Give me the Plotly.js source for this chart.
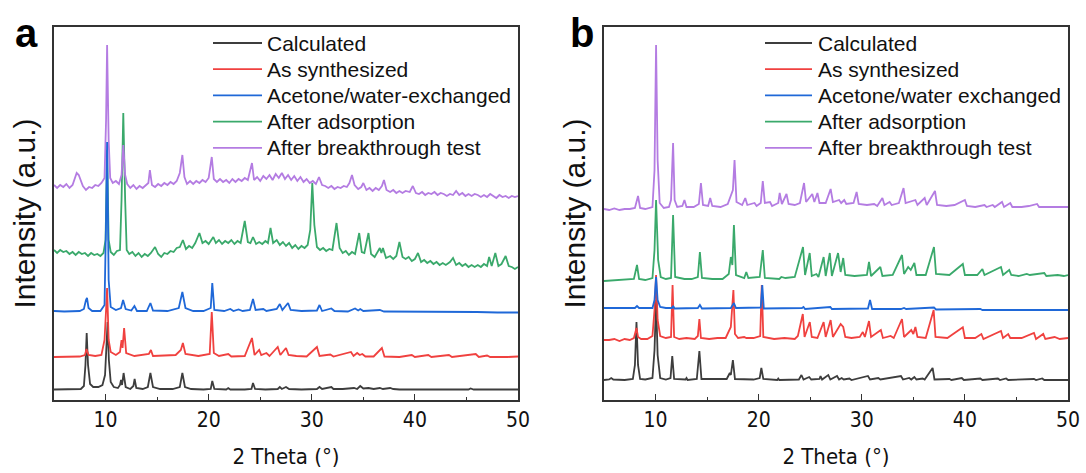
<!DOCTYPE html>
<html>
<head>
<meta charset="utf-8">
<script src="https://cdn.plot.ly/plotly-3.0.1.min.js"></script>
<style>html,body{margin:0;padding:0;background:#fff;}#chart{width:1086px;height:473px;}</style>
</head>
<body>
<div id="chart"></div>
<script>
// Series names (legend order)
const seriesNamesA = ["Calculated", "As synthesized", "Acetone/water-exchanged", "After adsorption", "After breakthrough test"];
const seriesNamesB = ["Calculated", "As synthesized", "Acetone/water exchanged", "After adsorption", "After breakthrough test"];
const panelLabels = ["a", "b"];
const xTickVals = [10, 20, 30, 40, 50];

// ---- Panel a: [2theta, stacked intensity (a.u.)] ----
const aCalculated = [[5,10.5],[6,10.5],[7,10.5],[7.6,11],[7.9,14],[8.05,35],[8.17,67],[8.3,35],[8.5,16],[8.8,13],[9.3,13],[9.7,15],[9.95,25],[10.1,55],[10.2,78],[10.32,40],[10.5,18],[10.8,13],[11.2,12],[11.4,15],[11.5,20],[11.6,15],[11.75,27],[11.95,13],[12.4,11],[12.7,14],[12.82,21],[12.98,12],[13.6,11],[14.1,13],[14.35,27],[14.6,13],[15.3,11],[16.5,11],[17.2,13],[17.45,27],[17.7,13],[18.3,11],[19.5,10.5],[20.2,11],[20.35,19],[20.55,11],[21.7,10.5],[21.9,12],[22.1,10.5],[23.5,10.5],[24.15,11],[24.3,17],[24.5,11],[25.5,10.5],[26.7,11],[26.9,13],[27.1,11],[27.5,13],[27.8,11],[29,10.5],[30.5,11],[30.75,13],[31,11],[31.9,13],[32.1,11],[33,11],[34.1,12],[34.4,11],[34.7,14],[35,11.5],[35.5,12],[36,11],[36.6,12],[36.9,11],[37.6,12],[37.9,11],[38.5,10.5],[40,10.5],[42,10.5],[45.2,10.5],[45.4,11.5],[45.7,10.5],[48,10.5],[50,10.5]];
const aAsSynth = [[5,43],[6,43],[7.5,43.5],[8,45],[8.15,51],[8.35,45],[9,44],[9.6,45],[9.9,60],[10.05,90],[10.15,112],[10.3,60],[10.5,48],[11,45],[11.4,48],[11.55,60],[11.65,52],[11.8,72],[12,47],[12.8,44],[14.2,46],[14.4,50],[14.6,44],[16.8,45],[17.3,50],[17.5,57],[17.75,46],[19,44],[20.1,46],[20.3,88],[20.5,47],[21,44],[21.9,46],[22.2,43.5],[23.5,44],[24.2,62],[24.45,45],[24.9,50],[25.1,45],[25.6,47],[25.9,44],[26.7,53],[26.95,45],[27.5,52],[27.75,45],[28.5,44],[29.5,43.5],[30.5,53],[30.75,44],[31.8,45.5],[32.1,43.5],[33.8,48],[34.05,44],[34.4,47],[34.65,45],[34.9,46],[35.2,43.5],[36,43.5],[36.8,52],[37.05,43.5],[38.5,43],[39.7,45],[40,43],[41.3,45],[41.6,43],[43.3,45],[43.6,43],[45.9,46],[46.2,43],[47,44.5],[47.3,43],[49,43],[50,43.5]];
const aExchanged = [[5,89],[6,88.5],[7.5,89],[7.9,91],[8.1,100],[8.2,102],[8.35,92],[8.7,89],[9.5,89],[9.9,95],[10.05,180],[10.15,258],[10.3,120],[10.5,93],[11,90],[11.5,92],[11.7,100],[11.95,91],[12.5,89.5],[12.8,94],[13.05,89],[14,89],[14.35,97],[14.6,89.5],[16,89],[17.1,92],[17.45,108],[17.75,92],[18.5,89],[19.5,89],[20.2,92],[20.35,117],[20.55,90],[21.5,89],[22.1,91],[22.4,89],[22.9,90.5],[23.3,89],[24,90],[24.3,101],[24.55,90],[25.3,91],[25.6,89],[26.6,91],[26.9,96],[27.15,90],[27.7,97],[27.95,90],[29,89],[30.5,89.5],[30.75,95],[31,89],[31.9,91.5],[32.2,89],[33.5,88.5],[34.2,91.5],[34.5,89.5],[34.7,91],[35,89],[36.6,90],[37,88.5],[40,88.5],[42,88],[44,88],[46,88],[48,87.5],[50,87.5]];
const aAdsorption = [[5,150],[5.3,147],[5.6,150],[5.9,148],[6.2,149],[6.5,146],[6.8,148],[7.1,145],[7.4,148],[7.7,146],[8,147],[8.3,144],[8.6,147],[8.9,145],[9.2,146],[9.5,144],[9.8,147],[10.0,160],[10.15,250],[10.3,160],[10.5,148],[10.8,145],[11.1,149],[11.4,150],[11.55,200],[11.72,287],[11.9,200],[12.05,150],[12.3,146],[12.6,148],[12.9,144],[13.2,147],[13.5,143],[13.8,146],[14.1,144],[14.4,147],[14.8,153],[15.1,146],[15.4,143],[15.7,147],[16,146],[16.3,149],[16.6,148],[16.9,152],[17.2,153],[17.5,160],[17.8,151],[18.1,154],[18.4,152],[18.7,157],[19.1,167],[19.4,157],[19.7,159],[20.0,156],[20.45,163],[20.7,157],[21.0,160],[21.3,156],[21.6,159],[21.9,157],[22.2,160],[22.5,156],[22.8,159],[23.1,157],[23.5,179],[23.8,158],[24.05,157],[24.3,163],[24.6,156],[24.9,158],[25.2,156],[25.5,159],[25.75,157],[26.0,172],[26.25,157],[26.6,160],[26.9,155],[27.2,158],[27.5,154],[27.8,157],[28.1,152],[28.4,155],[28.7,151],[29.0,154],[29.3,152],[29.6,155],[29.85,170],[30.05,217],[30.25,175],[30.5,153],[30.8,150],[31.1,152],[31.4,149],[31.7,151],[32.0,150],[32.4,177],[32.7,152],[33.0,147],[33.3,149],[33.6,145],[33.9,148],[34.2,146],[34.6,167],[34.85,148],[35.1,147],[35.5,167],[35.75,146],[36.1,143],[36.6,152],[36.75,147],[36.9,152],[37.2,142],[37.6,144],[37.9,141],[38.2,144],[38.5,158],[38.8,143],[39.1,141],[39.4,143],[39.7,139],[40.0,141],[40.3,147],[40.6,138],[40.9,140],[41.2,137],[41.5,139],[41.8,136],[42.1,138],[42.4,135],[42.7,137],[43.0,135],[43.4,138],[43.7,142],[44.0,135],[44.3,137],[44.6,134],[44.9,136],[45.2,133],[45.5,135],[45.8,133],[46.1,135],[46.4,133],[46.7,136],[47.0,134],[47.2,143],[47.45,134],[47.8,147],[48.1,134],[48.4,136],[48.8,144],[49.1,134],[49.4,133],[49.7,131],[50,133]];
const aBreakthrough = [[5,215],[5.3,212],[5.6,215],[5.9,213],[6.2,216],[6.5,212],[6.8,215],[7.0,222],[7.2,227],[7.4,225],[7.6,219],[7.8,214],[8.1,210],[8.4,213],[8.7,212],[9.0,215],[9.3,214],[9.6,217],[9.9,222],[10.05,280],[10.15,355],[10.3,260],[10.45,222],[10.7,217],[11.0,219],[11.3,216],[11.55,225],[11.72,255],[11.9,225],[12.1,216],[12.4,212],[12.7,215],[13.0,211],[13.3,214],[13.6,212],[13.9,215],[14.15,217],[14.3,230],[14.5,215],[14.8,213],[15.1,216],[15.4,214],[15.7,217],[16.0,215],[16.3,218],[16.6,216],[16.9,219],[17.2,227],[17.45,245],[17.65,223],[17.9,216],[18.2,219],[18.5,216],[18.8,219],[19.1,217],[19.4,220],[19.7,218],[20.0,222],[20.3,243],[20.5,221],[20.8,218],[21.1,221],[21.4,218],[21.7,220],[22.0,217],[22.3,221],[22.6,218],[22.9,221],[23.2,219],[23.5,222],[23.8,220],[24.2,237],[24.4,220],[24.7,223],[25.0,219],[25.3,224],[25.6,221],[25.9,225],[26.2,220],[26.5,226],[26.8,222],[27.1,227],[27.4,221],[27.7,225],[28.0,220],[28.3,224],[28.6,219],[28.9,223],[29.2,218],[29.5,221],[29.8,217],[30.1,219],[30.4,216],[30.7,223],[31.0,215],[31.3,214],[31.6,212],[31.9,214],[32.2,211],[32.5,213],[32.8,212],[33.1,214],[33.4,213],[33.65,217],[33.9,225],[34.15,215],[34.5,211],[34.8,213],[35.0,217],[35.3,210],[35.6,212],[35.9,209],[36.2,212],[36.5,210],[36.8,214],[37.0,220],[37.25,210],[37.6,208],[37.9,210],[38.2,207],[38.5,209],[38.8,207],[39.1,209],[39.5,208],[39.8,214],[40.1,207],[40.4,206],[40.7,208],[41.0,205],[41.3,207],[41.6,206],[41.9,208],[42.2,205],[42.5,207],[42.8,206],[43.1,204],[43.4,206],[43.7,205],[44.0,209],[44.3,205],[44.6,207],[44.9,204],[45.2,206],[45.5,204],[45.8,206],[46.1,205],[46.4,203],[46.7,205],[47.0,203],[47.3,206],[47.6,204],[47.9,202],[48.2,205],[48.5,203],[48.8,204],[49.1,202],[49.4,204],[49.7,203],[50,204]];

// ---- Panel b ----
const bCalculated = [[5,20],[5.5,20.5],[5.7,22],[5.9,20.5],[7,20],[7.8,21],[8.0,35],[8.15,78],[8.3,35],[8.5,21],[9,20.5],[9.7,22],[9.9,50],[10.05,100],[10.2,45],[10.45,22],[11,20.5],[11.45,22],[11.62,44],[11.8,21],[12.9,20.5],[13.0,22],[13.1,20],[14.0,21],[14.25,49],[14.45,21],[16.9,21],[17.2,27],[17.3,25],[17.5,40],[17.7,21],[19.5,20.5],[20.1,22],[20.26,32],[20.45,21],[21.8,20],[21.9,21.5],[22.0,20],[23.9,20.5],[24.15,25],[24.35,20.5],[24.9,23],[25.1,20.5],[25.9,21],[26.0,24],[26.15,20.5],[26.75,25],[26.95,20.5],[27.6,24],[27.8,20.5],[28.05,22],[28.25,20.5],[28.8,21.5],[29,20],[30.6,24],[30.8,20.5],[31.6,22],[31.8,20.5],[33.8,24],[34,20.5],[34.6,22],[34.8,20.5],[35.1,23],[35.3,20.5],[35.9,21.5],[36.1,20.5],[36.87,32],[37.05,20.5],[38.5,21],[38.7,20],[39.7,22],[39.9,20],[41.5,21.5],[41.7,20],[43.2,21.5],[43.4,20],[44,21.5],[44.2,20],[46.7,21],[46.9,20],[47.5,21.5],[47.7,20],[50,20]];
const bAsSynth = [[5,60],[5.5,60],[6,61],[6.5,59],[7,61],[7.5,60],[7.9,62],[8.05,70],[8.15,72],[8.3,63],[8.6,61],[9.2,61],[9.7,64],[9.9,90],[10.05,125],[10.2,80],[10.45,64],[11,62],[11.5,63],[11.65,115],[11.8,63],[12.3,61],[13,62],[13.8,61],[14.1,64],[14.25,81],[14.4,62],[15.2,61],[16,62],[16.8,62],[17.2,70],[17.3,73],[17.55,110],[17.7,66],[18.0,62],[18.6,63],[18.8,62],[19.5,62],[20.15,64],[20.3,115],[20.45,63],[21.5,61],[22.5,62],[23.5,61],[23.8,64],[24.28,86],[24.45,63],[24.96,78],[25.15,63],[25.7,62],[26.3,78],[26.5,63],[26.98,80],[27.2,63],[27.95,76],[28.2,73],[28.4,63],[29,62],[29.8,63],[30.1,68],[30.3,63],[30.7,79],[30.9,63],[31.85,70],[32.05,62],[32.8,64],[33.1,62],[33.9,81],[34.1,63],[34.8,70],[35.0,66],[35.2,73],[35.4,63],[36.2,62],[36.97,90],[37.15,63],[38.3,62],[39.8,72.7],[40.0,62],[41.0,62],[41.6,66],[41.8,61],[43.5,69],[43.7,62],[44.2,66],[44.4,62],[45.5,62],[46.7,67],[46.9,61],[47.6,66],[47.8,61],[48.7,63],[49.2,61],[50,62]];
const bExchanged = [[5,92],[7,92],[8.0,92],[8.2,94],[8.4,92],[9.7,92],[9.9,100],[10.05,123],[10.2,100],[10.45,93],[11,92],[11.6,92],[11.7,94],[11.85,91.5],[14.1,92],[14.3,95],[14.5,91.5],[17.3,92],[17.6,97],[17.8,92],[20.2,92.5],[20.35,115],[20.5,91.5],[24.2,92],[24.35,93],[24.5,91],[26.95,93],[27.1,91],[30.6,91.5],[30.8,100],[31.0,91],[33.8,91],[34.1,92],[34.3,91],[37.0,92.5],[37.2,90.5],[41.5,91],[41.7,90],[45,90],[50,90]];
const bAdsorption = [[5,119],[6,119.5],[7,120],[7.9,121],[8.2,135],[8.4,121],[9,120],[9.7,122],[9.9,150],[10.05,200],[10.25,140],[10.5,123],[11,121],[11.5,122],[11.7,185],[11.9,123],[12.8,121],[13.5,121],[14.1,123],[14.3,148],[14.5,122],[15.5,121],[16.5,121],[17.1,126],[17.3,143],[17.45,135],[17.6,175],[17.8,125],[18.6,122],[18.8,128],[19.0,122],[20.1,123],[20.4,150],[20.6,122],[22.0,121],[22.2,123],[22.6,122],[23.5,123],[24.3,153],[24.5,125],[24.95,147],[25.15,124],[25.6,126],[25.8,123],[26.3,143],[26.5,124],[26.9,147],[27.1,124],[27.7,147],[27.95,128],[28.2,142],[28.4,125],[29.3,124],[30.5,125],[30.7,138],[30.9,124],[31.8,133],[32.0,124],[33.0,125],[33.9,145],[34.1,126],[34.5,133],[34.75,130],[35.1,137],[35.3,125],[36.2,125],[37.0,153],[37.2,126],[38.5,125],[39.8,136],[40.0,125],[41.2,125],[41.7,131],[41.9,125],[43.5,133],[43.7,125],[44.3,130],[44.5,125],[45.2,124],[46.0,126],[46.3,125],[47.7,127],[47.9,124],[49,125],[49.6,124],[50,125]];
const bBreakthrough = [[5,191],[5.5,190],[6,191.5],[6.5,190],[7,191],[7.5,191],[8.0,192],[8.3,204],[8.5,192],[9,191],[9.7,193],[9.9,230],[10.05,355],[10.2,240],[10.4,197],[10.8,192],[11.3,193],[11.5,200],[11.7,257],[11.85,200],[12.1,193],[12.6,194],[12.8,200],[13.0,193],[13.7,193],[14.2,196],[14.4,217],[14.6,195],[15.1,194],[15.3,202],[15.5,194],[16.3,193],[17.0,196],[17.35,205],[17.5,210],[17.66,240],[17.85,198],[18.4,195],[18.7,202],[18.9,195],[19.6,197],[19.8,194],[20.2,197],[20.4,219],[20.6,197],[21.1,198],[21.3,194],[21.9,197],[22.04,207],[22.25,196],[22.7,206],[22.9,196],[23.5,195],[24.0,197],[24.4,217],[24.6,198],[25.2,206],[25.4,198],[25.7,207],[25.9,197],[26.5,197],[26.98,211],[27.2,198],[27.8,200],[28.0,197],[28.3,200],[28.5,196],[29.2,197],[29.5,208],[29.7,196],[30.5,195],[31.2,196],[31.5,194],[32.0,202],[32.2,195],[32.7,198],[32.9,195],[33.6,197],[34.05,212],[34.25,197],[35.2,200],[35.4,195],[36.1,202],[36.3,195],[37.1,209],[37.3,195],[38.2,194],[39.0,195],[40.0,200],[40.2,194],[41.0,193],[41.9,195],[42.1,193],[42.7,195],[42.9,193],[43.6,198],[43.8,193],[44.4,197],[44.6,193],[45.5,193],[46.2,194],[47.0,196],[47.2,193],[48.5,193],[49.2,193],[50,193]];

const colors = ["#3d3d3d", "#f0413f", "#1f68d8", "#3aa96b", "#b47ce2"];

const panelA = [aCalculated, aAsSynth, aExchanged, aAdsorption, aBreakthrough];
const panelB = [bCalculated, bAsSynth, bExchanged, bAdsorption, bBreakthrough];
// drawing order (bottom -> top): calculated, as-synth, adsorption, breakthrough, exchanged
const drawOrder = [0, 1, 3, 4, 2];

const W = 1086, H = 473;
const narrow = "Liberation Sans Narrow, Arial Narrow, DejaVu Sans Condensed, Liberation Sans, Arial, sans-serif";
const regular = "Liberation Sans, Arial, sans-serif";

const traces = [];
const shapes = [];
const annotations = [];

// legend geometry (pixels)
const legendRow0 = 43, legendRowStep = 26.2;

function addPanel(data, names, xa, ya, lineX0, lineX1, textX) {
  drawOrder.forEach(function (i) {
    traces.push({
      type: "scatter", mode: "lines",
      x: data[i].map(function (p) { return p[0]; }),
      y: data[i].map(function (p) { return p[1]; }),
      name: names[i], xaxis: xa, yaxis: ya, showlegend: false,
      line: { color: colors[i], width: 1.8 },
      hoverinfo: "x+y+name"
    });
  });
  names.forEach(function (nm, i) {
    const yp = 1 - (legendRow0 + i * legendRowStep) / H;
    shapes.push({ type: "line", xref: "paper", yref: "paper", x0: lineX0 / W, x1: lineX1 / W, y0: yp, y1: yp,
      line: { color: colors[i], width: 1.8 } });
    annotations.push({ text: nm, xref: "paper", yref: "paper", x: textX / W, y: yp, xanchor: "left", yanchor: "middle",
      showarrow: false, font: { family: regular, size: 21, color: "#111" } });
  });
}
addPanel(panelA, seriesNamesA, "x", "y", 213, 262, 265);
addPanel(panelB, seriesNamesB, "x2", "y2", 765, 812, 816);

function xAxis(domain, anchor) {
  return {
    domain: domain, anchor: anchor, range: [5, 50],
    tickvals: xTickVals, ticktext: xTickVals.map(String),
    ticks: "inside", ticklen: 6, tickwidth: 1.3, tickcolor: "#333",
    minor: { ticks: "inside", ticklen: 3.5, tickwidth: 1.2, tickcolor: "#333", dtick: 5, tick0: 0 },
    showline: true, linecolor: "#333", linewidth: 1.5, mirror: true,
    showgrid: false, zeroline: false,
    tickfont: { family: narrow, size: 21, color: "#111" },
    title: { text: "2 Theta (°)", font: { family: narrow, size: 22, color: "#111" }, standoff: 18 },
    automargin: false
  };
}
function yAxis(anchor) {
  return {
    domain: [1 - 400 / H, 1 - 27 / H], anchor: anchor, range: [0, 373],
    showticklabels: false, ticks: "", showgrid: false, zeroline: false,
    showline: true, linecolor: "#333", linewidth: 1.5, mirror: true,
    title: { text: "Intensity (a.u.)", font: { family: regular, size: 30, color: "#111" }, standoff: 8 },
    automargin: false
  };
}

annotations.push(
  { text: "<b>" + panelLabels[0] + "</b>", xref: "paper", yref: "paper", x: 26 / W, y: 1 - 33 / H, xanchor: "center", yanchor: "middle", showarrow: false, font: { family: regular, size: 40, color: "#000" } },
  { text: "<b>" + panelLabels[1] + "</b>", xref: "paper", yref: "paper", x: 582 / W, y: 1 - 33 / H, xanchor: "center", yanchor: "middle", showarrow: false, font: { family: regular, size: 40, color: "#000" } }
);

const layout = {
  width: W, height: H,
  margin: { l: 0, r: 0, t: 0, b: 0 },
  paper_bgcolor: "#fff", plot_bgcolor: "#fff",
  showlegend: false,
  xaxis: xAxis([54 / W, 518 / W], "y"),
  yaxis: yAxis("x"),
  xaxis2: xAxis([604 / W, 1068 / W], "y2"),
  yaxis2: yAxis("x2"),
  shapes: shapes,
  annotations: annotations
};

Plotly.newPlot("chart", traces, layout, { displayModeBar: false, responsive: false });
</script>
</body>
</html>
